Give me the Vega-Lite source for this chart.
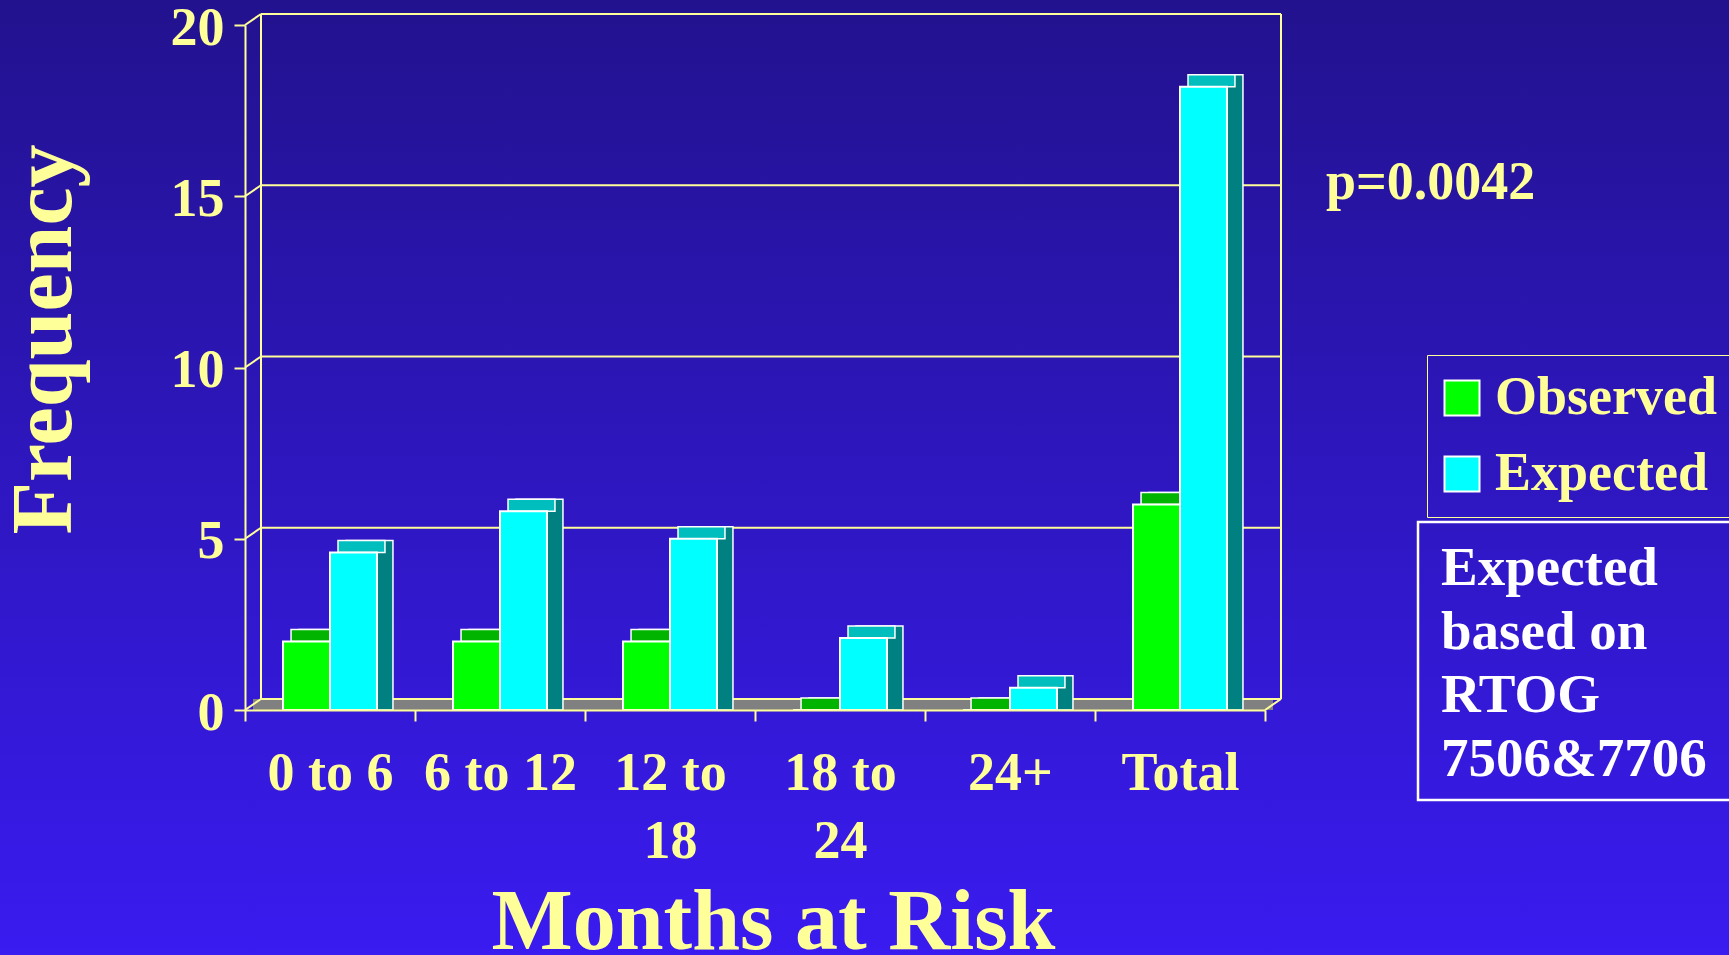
{
  "$schema": "https://vega.github.io/schema/vega-lite/v6.json",
  "width": 1020,
  "height": 685,
  "autosize": {"type": "none"},
  "padding": {"left": 245, "top": 25, "right": 464, "bottom": 245},
  "background": "#2B1ABF",
  "config": {
    "view": {"stroke": null},
    "font": "Liberation Serif",
    "axis": {
      "zindex": 2,
      "grid": false,
      "domainColor": "#FFFF99",
      "domainWidth": 2,
      "tickColor": "#FFFF99",
      "tickWidth": 2,
      "tickSize": 11,
      "labelColor": "#FFFF99",
      "labelFont": "Liberation Serif",
      "labelFontWeight": "bold",
      "labelFontSize": 54,
      "titleColor": "#FFFF99",
      "titleFont": "Liberation Serif",
      "titleFontWeight": "bold",
      "titleFontSize": 86
    }
  },
  "datasets": {
    "freq": [
      {"months": "0 to 6", "series": "Observed", "freq": 2},
      {"months": "0 to 6", "series": "Expected", "freq": 4.6},
      {"months": "6 to 12", "series": "Observed", "freq": 2},
      {"months": "6 to 12", "series": "Expected", "freq": 5.8},
      {"months": "12 to 18", "series": "Observed", "freq": 2},
      {"months": "12 to 18", "series": "Expected", "freq": 5.0},
      {"months": "18 to 24", "series": "Observed", "freq": 0},
      {"months": "18 to 24", "series": "Expected", "freq": 2.1},
      {"months": "24+", "series": "Observed", "freq": 0},
      {"months": "24+", "series": "Expected", "freq": 0.65},
      {"months": "Total", "series": "Observed", "freq": 6},
      {"months": "Total", "series": "Expected", "freq": 18.2}
    ],
    "ticks": [{"v": 0}, {"v": 5}, {"v": 10}, {"v": 15}, {"v": 20}],
    "pnote": [{"label": "p=0.0042"}],
    "note": [{"lines": ["Expected", "based on", "RTOG", "7506&7706"]}]
  },
  "resolve": {"scale": {"x": "independent", "y": "independent", "xOffset": "independent", "color": "independent"}},
  "layer": [
    {
      "data": {"values": [{}]},
      "mark": {
        "type": "rect",
        "color": {"gradient": "linear", "x1": 0, "y1": 0, "x2": 0, "y2": 1,
          "stops": [{"offset": 0, "color": "#22128E"}, {"offset": 1, "color": "#3A1BF0"}]},
        "xOffset": -245, "x2Offset": 464, "yOffset": -25, "y2Offset": 245
      },
      "encoding": {
        "x": {"datum": 0, "type": "quantitative", "scale": {"domain": [0, 1], "nice": false}, "axis": null},
        "x2": {"datum": 1},
        "y": {"datum": 20, "type": "quantitative", "scale": {"domain": [0, 20], "nice": false}, "axis": null},
        "y2": {"datum": 0}
      }
    },
    {
      "data": {"values": [{}]},
      "mark": {"type": "rect", "color": "#808080", "xOffset": 8, "x2Offset": 8, "yOffset": -11},
      "encoding": {
        "x": {"datum": 0, "type": "quantitative", "scale": {"domain": [0, 1], "nice": false}, "axis": null},
        "x2": {"datum": 1},
        "y": {"datum": 0, "type": "quantitative", "scale": {"domain": [0, 20], "nice": false}, "axis": null},
        "y2": {"datum": 0}
      }
    },
    {
      "data": {"name": "ticks"},
      "mark": {"type": "rule", "color": "#FFFF99", "strokeWidth": 2, "xOffset": 16, "x2Offset": 16, "yOffset": -11},
      "encoding": {
        "x": {"datum": 0, "type": "quantitative", "scale": {"domain": [0, 1], "nice": false}, "axis": null},
        "x2": {"datum": 1},
        "y": {"field": "v", "type": "quantitative", "scale": {"domain": [0, 20], "nice": false}, "axis": null}
      }
    },
    {
      "data": {"name": "ticks"},
      "mark": {"type": "rule", "color": "#FFFF99", "strokeWidth": 2, "x2Offset": 16, "y2Offset": -11},
      "encoding": {
        "x": {"datum": 0, "type": "quantitative", "scale": {"domain": [0, 1], "nice": false}, "axis": null},
        "x2": {"datum": 0},
        "y": {"field": "v", "type": "quantitative", "scale": {"domain": [0, 20], "nice": false}, "axis": null},
        "y2": {"field": "v"}
      }
    },
    {
      "data": {"values": [{}]},
      "mark": {"type": "rule", "color": "#FFFF99", "strokeWidth": 2, "x2Offset": 16, "y2Offset": -11},
      "encoding": {
        "x": {"datum": 1, "type": "quantitative", "scale": {"domain": [0, 1], "nice": false}, "axis": null},
        "x2": {"datum": 1},
        "y": {"datum": 0, "type": "quantitative", "scale": {"domain": [0, 20], "nice": false}, "axis": null},
        "y2": {"datum": 0}
      }
    },
    {
      "data": {"values": [{}]},
      "mark": {"type": "rule", "color": "#FFFF99", "strokeWidth": 2, "xOffset": 16, "yOffset": -11, "y2Offset": -11},
      "encoding": {
        "x": {"datum": 0, "type": "quantitative", "scale": {"domain": [0, 1], "nice": false}, "axis": null},
        "y": {"datum": 20, "type": "quantitative", "scale": {"domain": [0, 20], "nice": false}, "axis": null},
        "y2": {"datum": 0}
      }
    },
    {
      "data": {"values": [{}]},
      "mark": {"type": "rule", "color": "#FFFF99", "strokeWidth": 2, "xOffset": 16, "yOffset": -11, "y2Offset": -11},
      "encoding": {
        "x": {"datum": 1, "type": "quantitative", "scale": {"domain": [0, 1], "nice": false}, "axis": null},
        "y": {"datum": 20, "type": "quantitative", "scale": {"domain": [0, 20], "nice": false}, "axis": null},
        "y2": {"datum": 0}
      }
    },
    {
      "data": {"name": "freq"},
      "mark": {"type": "bar", "yOffset": -12, "y2Offset": -12, "stroke": "white", "strokeWidth": 1.5},
      "encoding": {
        "x": {"field": "months", "type": "nominal", "sort": ["0 to 6", "6 to 12", "12 to 18", "18 to 24", "24+", "Total"], "scale": {"paddingInner": 0, "paddingOuter": 0}, "axis": null},
        "xOffset": {"field": "series", "type": "nominal", "sort": ["Observed", "Expected"], "scale": {"paddingInner": 0, "paddingOuter": 0.81, "range": [16, 186]}},
        "y": {"field": "freq", "type": "quantitative", "stack": null, "scale": {"domain": [0, 20], "nice": false}, "axis": null},
        "color": {"field": "series", "type": "nominal", "scale": {"domain": ["Observed", "Expected"], "range": ["#007000", "#008080"]}, "legend": null}
      }
    },
    {
      "data": {"name": "freq"},
      "mark": {"type": "bar", "y2Offset": -12, "stroke": "white", "strokeWidth": 1.5},
      "encoding": {
        "x": {"field": "months", "type": "nominal", "sort": ["0 to 6", "6 to 12", "12 to 18", "18 to 24", "24+", "Total"], "scale": {"paddingInner": 0, "paddingOuter": 0}, "axis": null},
        "xOffset": {"field": "series", "type": "nominal", "sort": ["Observed", "Expected"], "scale": {"paddingInner": 0, "paddingOuter": 0.81, "range": [8, 178]}},
        "y": {"field": "freq", "type": "quantitative", "stack": null, "scale": {"domain": [0, 20], "nice": false}, "axis": null},
        "y2": {"field": "freq"},
        "color": {"field": "series", "type": "nominal", "scale": {"domain": ["Observed", "Expected"], "range": ["#00B400", "#00BEBE"]}, "legend": null}
      }
    },
    {
      "data": {"name": "freq"},
      "mark": {"type": "bar", "stroke": "white", "strokeWidth": 2},
      "encoding": {
        "x": {
          "field": "months", "type": "nominal",
          "sort": ["0 to 6", "6 to 12", "12 to 18", "18 to 24", "24+", "Total"],
          "scale": {"paddingInner": 0, "paddingOuter": 0},
          "axis": {
            "zindex": 2,
            "title": "Months at Risk",
            "labelAngle": 0,
            "tickBand": "extent",
            "labelBaseline": "alphabetic",
            "labelPadding": 68,
            "labelLineHeight": 68,
            "labelOverlap": false,
            "labelBound": false,
            "labelFlush": false,
            "labelExpr": "datum.label == '12 to 18' ? ['12 to', '18'] : datum.label == '18 to 24' ? ['18 to', '24'] : datum.label",
            "titleX": 528,
            "titleY": 238,
            "titleAlign": "center",
            "titleBaseline": "alphabetic"
          }
        },
        "xOffset": {"field": "series", "type": "nominal", "sort": ["Observed", "Expected"], "scale": {"paddingInner": 0, "paddingOuter": 0.81}},
        "y": {
          "field": "freq", "type": "quantitative", "stack": null,
          "scale": {"domain": [0, 20], "nice": false},
          "axis": {
            "zindex": 2,
            "values": [0, 5, 10, 15, 20],
            "title": "Frequency",
            "labelPadding": 10,
            "labelOffset": 3,
            "titleAngle": -90,
            "titleX": -175,
            "titleY": 314,
            "titleAlign": "center",
            "titleBaseline": "alphabetic"
          }
        },
        "color": {
          "field": "series", "type": "nominal",
          "scale": {"domain": ["Observed", "Expected"], "range": ["#00FF00", "#00FFFF"]},
          "legend": {
            "orient": "none",
            "legendX": 1182,
            "legendY": 330,
            "title": null,
            "strokeColor": "#FFFF99",
            "padding": 16,
            "rowPadding": 22,
            "symbolType": "square",
            "symbolSize": 1225,
            "symbolOffset": -8,
            "symbolStrokeColor": "white",
            "symbolStrokeWidth": 2,
            "symbolOpacity": 1,
            "labelFont": "Liberation Serif",
            "labelFontWeight": "bold",
            "labelFontSize": 54,
            "labelLimit": 0,
            "labelColor": "#FFFF99",
            "labelOffset": 6
          }
        }
      }
    },
    {
      "data": {"name": "pnote"},
      "mark": {"type": "text", "font": "Liberation Serif", "fontWeight": "bold", "fontSize": 54, "color": "#FFFF99", "align": "left", "baseline": "alphabetic", "xOffset": 61, "yOffset": 3},
      "encoding": {
        "x": {"datum": 1, "type": "quantitative", "scale": {"domain": [0, 1], "nice": false}, "axis": null},
        "y": {"datum": 15, "type": "quantitative", "scale": {"domain": [0, 20], "nice": false}, "axis": null},
        "text": {"field": "label"}
      }
    },
    {
      "data": {"values": [{}]},
      "mark": {"type": "rect", "filled": false, "stroke": "white", "strokeWidth": 2.5, "xOffset": 153, "x2Offset": 500, "yOffset": -188, "y2Offset": 90},
      "encoding": {
        "x": {"datum": 1, "type": "quantitative", "scale": {"domain": [0, 1], "nice": false}, "axis": null},
        "x2": {"datum": 1},
        "y": {"datum": 0, "type": "quantitative", "scale": {"domain": [0, 20], "nice": false}, "axis": null},
        "y2": {"datum": 0}
      }
    },
    {
      "data": {"name": "note"},
      "mark": {"type": "text", "font": "Liberation Serif", "fontWeight": "bold", "fontSize": 55, "color": "white", "align": "left", "baseline": "alphabetic", "lineHeight": 63.5, "xOffset": 176, "yOffset": -125},
      "encoding": {
        "x": {"datum": 1, "type": "quantitative", "scale": {"domain": [0, 1], "nice": false}, "axis": null},
        "y": {"datum": 0, "type": "quantitative", "scale": {"domain": [0, 20], "nice": false}, "axis": null},
        "text": {"field": "lines"}
      }
    }
  ]
}
